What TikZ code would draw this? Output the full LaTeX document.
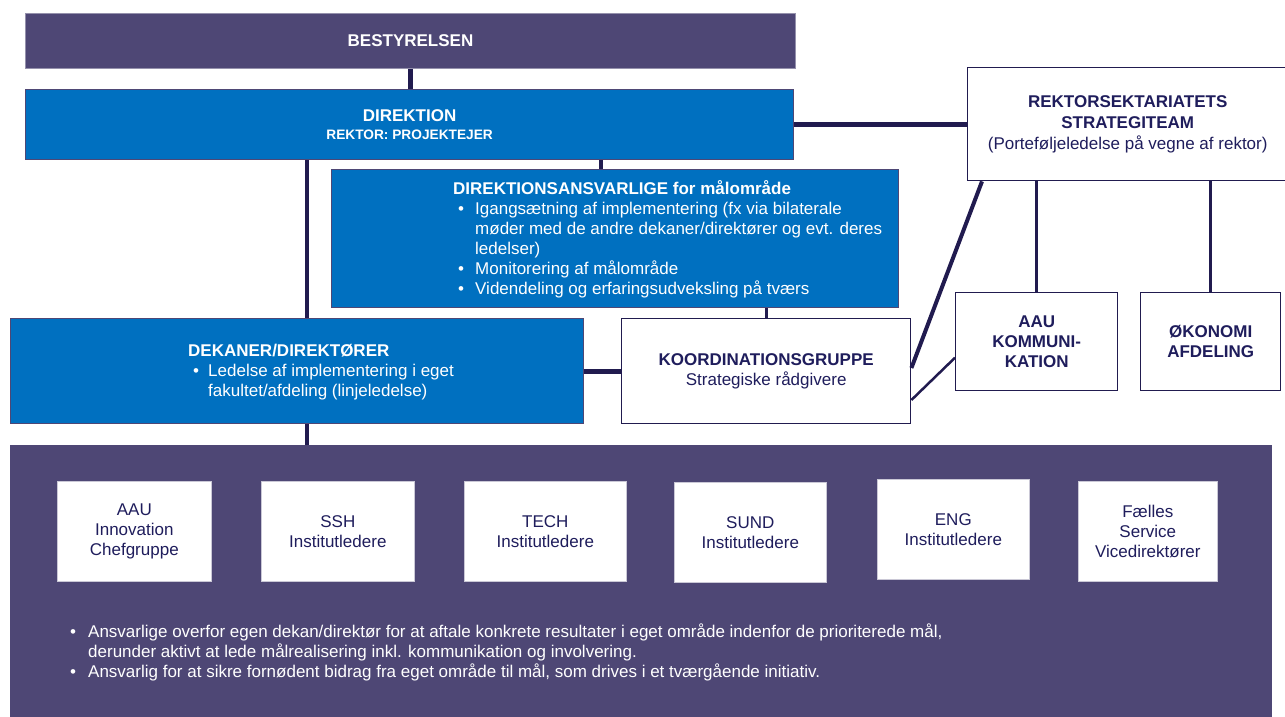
\documentclass[tikz,border=0pt]{standalone}
\usepackage{fontspec}
\setmainfont{Liberation Sans}
\usetikzlibrary{calc}
\definecolor{purp}{HTML}{4E4775}
\definecolor{aaublue}{HTML}{0070C0}
\definecolor{navy}{HTML}{211B4F}
\definecolor{txtnavy}{HTML}{1F1D5C}
\newcommand\bulbox[1]{\makebox[#1][l]{•}}
\begin{document}
\begin{tikzpicture}[x=1pt,y=-1pt,
  big/.style={font=\fontsize{17}{20}\selectfont},
  purpbox/.style={draw=purp!60!white, line width=1pt, fill=purp, anchor=north west, text=white, big, font=\bfseries\fontsize{17}{20}\selectfont},
  bluebox/.style={draw=purp, line width=1.2pt, fill=aaublue, anchor=north west, text=white, align=center},
  whitebox/.style={draw=navy, line width=1.4pt, fill=white, anchor=north west, text=txtnavy, align=center, big},
  unitbox/.style={draw=purp!30!white, line width=0.6pt, fill=white, anchor=north west, text=txtnavy, align=center, big},
  txt/.style={anchor=north west, inner sep=0pt, align=left, big},
  conn/.style={draw=navy, line width=4.5pt},
  connmid/.style={draw=navy, line width=3pt},
  connthin/.style={draw=navy, line width=2.5pt}]
\useasboundingbox (0,0) rectangle (1285,717);

% boxes
\node[purpbox, minimum width=770, minimum height=55] (best) at (25,13) {BESTYRELSEN};
\node[bluebox, minimum width=768, minimum height=70, font=\bfseries\fontsize{17}{18}\selectfont] (dir) at (25,89)
  {DIREKTION\\[0pt]{\fontsize{13.7}{16}\selectfont REKTOR: PROJEKTEJER}};
\node[bluebox, minimum width=567, minimum height=138] (dans) at (331,169) {};
\node[bluebox, minimum width=573, minimum height=105] (dek) at (10,318) {};
\node[whitebox, minimum width=289, minimum height=105] (koord) at (621,318)
  {\textbf{KOORDINATIONSGRUPPE}\\Strategiske rådgivere};
\node[whitebox, minimum width=320, minimum height=113, font=\fontsize{17}{21}\selectfont] (rek) at (967,67)
  {\textbf{REKTORSEKTARIATETS}\\\textbf{STRATEGITEAM}\\(Porteføljeledelse på vegne af rektor)};
\node[whitebox, minimum width=162, minimum height=98] (komm) at (955,292)
  {\textbf{AAU}\\\textbf{KOMMUNI-}\\\textbf{KATION}};
\node[whitebox, minimum width=140, minimum height=98] (okon) at (1140,292)
  {\textbf{ØKONOMI}\\\textbf{AFDELING}};
\node[draw=none, fill=purp, anchor=north west, minimum width=1262, minimum height=280] (bot) at (10,445) {};

% text inside blue boxes
\node[txt, text=white] (danstxt) at (453,180)
  {\textbf{DIREKTIONSANSVARLIGE for målområde}\\
   \hspace*{5pt}\bulbox{17pt}Igangsætning af implementering (fx via bilaterale\\
   \hspace*{22pt}møder med de andre dekaner/direktører og evt. deres\\
   \hspace*{22pt}ledelser)\\
   \hspace*{5pt}\bulbox{17pt}Monitorering af målområde\\
   \hspace*{5pt}\bulbox{17pt}Videndeling og erfaringsudveksling på tværs};
\node[txt, text=white] (dektxt) at (188,344)
  {\textbf{DEKANER/DIREKTØRER}\\
   \hspace*{5pt}\bulbox{15pt}Ledelse af implementering i eget\\
   \hspace*{20pt}fakultet/afdeling (linjeledelse)};

% unit boxes
\node[unitbox, minimum width=154, minimum height=100] (u1) at (57,481) {AAU\\Innovation\\Chefgruppe};
\node[unitbox, minimum width=153, minimum height=100] (u2) at (261,481) {SSH\\Institutledere};
\node[unitbox, minimum width=162, minimum height=100] (u3) at (464,481) {TECH\\Institutledere};
\node[unitbox, minimum width=152, minimum height=100] (u4) at (674,482) {SUND\\Institutledere};
\node[unitbox, minimum width=152, minimum height=100] (u5) at (877,479) {ENG\\Institutledere};
\node[unitbox, minimum width=139, minimum height=100] (u6) at (1078,481) {Fælles\\Service\\Vicedirektører};

\node[txt, text=white] (bottxt) at (70,624)
  {\bulbox{18pt}Ansvarlige overfor egen dekan/direktør for at aftale konkrete resultater i eget område indenfor de prioriterede mål,\\
   \hspace*{18pt}derunder aktivt at lede målrealisering inkl. kommunikation og involvering.\\
   \bulbox{18pt}Ansvarlig for at sikre fornødent bidrag fra eget område til mål, som drives i et tværgående initiativ.};

% connectors
\coordinate (xa) at (307,0);
\coordinate (xb) at (601,0);
\coordinate (xc) at (766,0);
\draw[conn] (best.south) -- (best.south |- dir.north);
\draw[conn] (dir.south -| xb) -- (dans.north -| xb);
\draw[conn] (dir.south -| xa) -- (dek.north -| xa);
\draw[conn] (dek.south -| xa) -- (bot.north -| xa);
\draw[conn, line width=5pt] (dek.east) -- (dek.east -| koord.west);
\draw[connmid] (dans.south -| xc) -- (koord.north -| xc);
\draw[conn] (dir.east) -- (dir.east -| rek.west);
\draw[conn, line width=4pt] ($(rek.south west)+(15,0)$) -- ($(koord.north east)+(0,50)$);
\draw[connmid] (rek.south -| komm.north) -- (komm.north);
\draw[connmid] (rek.south -| okon.north) -- (okon.north);
\draw[connthin] ($(komm.west)+(0,16)$) -- ($(koord.north east)+(0,82)$);
\end{tikzpicture}
\end{document}
